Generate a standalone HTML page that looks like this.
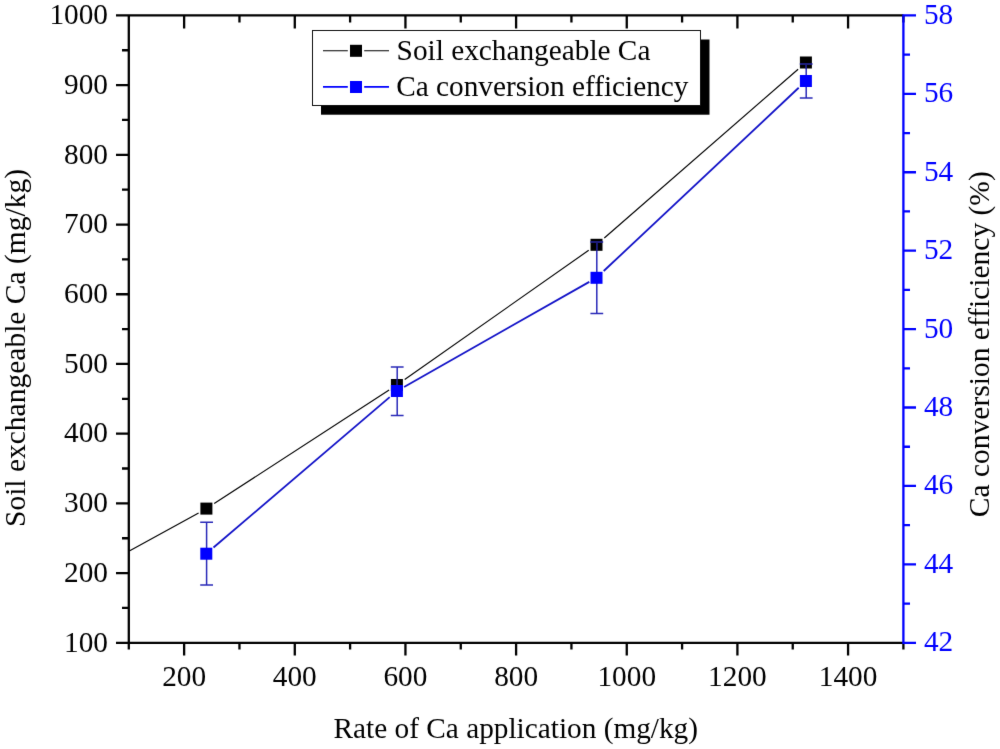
<!DOCTYPE html>
<html><head><meta charset="utf-8"><style>
html,body{margin:0;padding:0;background:#fff;width:1000px;height:749px;overflow:hidden}
svg{display:block}
text{font-family:"Liberation Serif",serif;font-size:29.3px;fill:#000}
</style></head><body>
<svg width="1000" height="749" viewBox="0 0 1000 749">
<defs><filter id="bl" filterUnits="userSpaceOnUse" x="-10" y="-10" width="1020" height="769" color-interpolation-filters="sRGB"><feConvolveMatrix order="3" kernelMatrix="0.00524 0.06192 0.00524 0.06192 0.73137 0.06192 0.00524 0.06192 0.00524" edgeMode="duplicate" preserveAlpha="true"/></filter></defs>
<g filter="url(#bl)">
<rect x="-10" y="-10" width="1020" height="769" fill="#fff"/>
<rect x="321" y="39.5" width="388.5" height="75.2" fill="#000"/>
<rect x="312.5" y="30.5" width="388" height="75" fill="#fff" stroke="#111" stroke-width="1"/>
<path d="M323,50.8H347.8M364.2,50.8H389" stroke="#000" stroke-width="1.1"/>
<rect x="350" y="44.8" width="12" height="12" fill="#000"/>
<text x="396.6" y="59.9">Soil exchangeable Ca</text>
<path d="M323,86.9H347.8M364.2,86.9H389" stroke="#0000ff" stroke-width="1.6"/>
<rect x="350" y="81" width="12" height="12" fill="#0000ff"/>
<text x="396.2" y="96.1">Ca conversion efficiency</text>
<path fill="none" stroke="#000" stroke-width="1.15" d="M129.30,551.00L198.60,512.89M214.20,503.54L389.10,390.06M404.70,379.52L588.70,250.28M604.30,238.01L798.10,69.29"/>
<rect x="200.4" y="502.6" width="12" height="12" fill="#000"/>
<rect x="390.9" y="379.0" width="12" height="12" fill="#000"/>
<rect x="590.5" y="238.8" width="12" height="12" fill="#000"/>
<rect x="799.9" y="56.5" width="12" height="12" fill="#000"/>
<path d="M206.60,522.3V585.0M200.20,522.3H213.00M200.20,585.0H213.00M397.20,367.0V415.4M390.80,367.0H403.60M390.80,415.4H403.60M596.80,242.0V313.5M590.40,242.0H603.20M590.40,313.5H603.20M806.20,64.0V98.1M799.80,64.0H812.60M799.80,98.1H812.60" stroke="#2a2ab8" stroke-width="1.5" fill="none"/>
<clipPath id="bk"><rect x="200.4" y="502.6" width="12" height="12"/><rect x="390.9" y="379.0" width="12" height="12"/><rect x="590.5" y="238.8" width="12" height="12"/><rect x="799.9" y="56.5" width="12" height="12"/></clipPath>
<path d="M206.60,522.3V585.0M200.20,522.3H213.00M200.20,585.0H213.00M397.20,367.0V415.4M390.80,367.0H403.60M390.80,415.4H403.60M596.80,242.0V313.5M590.40,242.0H603.20M590.40,313.5H603.20M806.20,64.0V98.1M799.80,64.0H812.60M799.80,98.1H812.60" stroke="#1c1c78" stroke-width="1.5" fill="none" clip-path="url(#bk)"/>
<path fill="none" stroke="#1414c8" stroke-width="1.8" d="M213.50,547.55L389.70,397.15M404.10,386.92L589.30,281.88M603.70,271.03L798.70,87.77"/>
<rect x="200.3" y="547.7" width="12" height="12" fill="#0000ff"/>
<rect x="390.9" y="385.0" width="12" height="12" fill="#0000ff"/>
<rect x="590.5" y="271.8" width="12" height="12" fill="#0000ff"/>
<rect x="799.9" y="75.0" width="12" height="12" fill="#0000ff"/>
<path d="M128.8,15.4H903.4 M128.8,14.25V642.8 M127.65,642.8H903.4 M116.00000000000001,642.80H128.8 M122.00000000000001,607.94H128.8 M116.00000000000001,573.09H128.8 M122.00000000000001,538.23H128.8 M116.00000000000001,503.38H128.8 M122.00000000000001,468.52H128.8 M116.00000000000001,433.67H128.8 M122.00000000000001,398.81H128.8 M116.00000000000001,363.96H128.8 M122.00000000000001,329.10H128.8 M116.00000000000001,294.24H128.8 M122.00000000000001,259.39H128.8 M116.00000000000001,224.53H128.8 M122.00000000000001,189.68H128.8 M116.00000000000001,154.82H128.8 M122.00000000000001,119.97H128.8 M116.00000000000001,85.11H128.8 M122.00000000000001,50.26H128.8 M116.00000000000001,15.40H128.8 M128.80,642.8V649.5999999999999 M184.13,642.8V655.5999999999999 M239.46,642.8V649.5999999999999 M294.79,642.8V655.5999999999999 M350.11,642.8V649.5999999999999 M405.44,642.8V655.5999999999999 M460.77,642.8V649.5999999999999 M516.10,642.8V655.5999999999999 M571.43,642.8V649.5999999999999 M626.76,642.8V655.5999999999999 M682.09,642.8V649.5999999999999 M737.41,642.8V655.5999999999999 M792.74,642.8V649.5999999999999 M848.07,642.8V655.5999999999999 M903.40,642.8V649.5999999999999 M128.80,15.4V22.4 M184.13,15.4V28.4 M239.46,15.4V22.4 M294.79,15.4V28.4 M350.11,15.4V22.4 M405.44,15.4V28.4 M460.77,15.4V22.4 M516.10,15.4V28.4 M571.43,15.4V22.4 M626.76,15.4V28.4 M682.09,15.4V22.4 M737.41,15.4V28.4 M792.74,15.4V22.4 M848.07,15.4V28.4 M903.40,15.4V22.4" stroke="#000" stroke-width="2.3" fill="none"/>
<path d="M903.4,14.25V643.9499999999999 M903.4,642.80H916.0 M903.4,603.59H910.0 M903.4,564.38H916.0 M903.4,525.16H910.0 M903.4,485.95H916.0 M903.4,446.74H910.0 M903.4,407.52H916.0 M903.4,368.31H910.0 M903.4,329.10H916.0 M903.4,289.89H910.0 M903.4,250.67H916.0 M903.4,211.46H910.0 M903.4,172.25H916.0 M903.4,133.04H910.0 M903.4,93.82H916.0 M903.4,54.61H910.0 M903.4,15.40H916.0" stroke="#0000ff" stroke-width="2.3" fill="none"/>
<text transform="translate(108,651.50) scale(1,1.03)" text-anchor="end">100</text>
<text transform="translate(108,581.79) scale(1,1.03)" text-anchor="end">200</text>
<text transform="translate(108,512.08) scale(1,1.03)" text-anchor="end">300</text>
<text transform="translate(108,442.37) scale(1,1.03)" text-anchor="end">400</text>
<text transform="translate(108,372.66) scale(1,1.03)" text-anchor="end">500</text>
<text transform="translate(108,302.94) scale(1,1.03)" text-anchor="end">600</text>
<text transform="translate(108,233.23) scale(1,1.03)" text-anchor="end">700</text>
<text transform="translate(108,163.52) scale(1,1.03)" text-anchor="end">800</text>
<text transform="translate(108,93.81) scale(1,1.03)" text-anchor="end">900</text>
<text transform="translate(108,24.10) scale(1,1.03)" text-anchor="end">1000</text>
<text transform="translate(184.13,685.8) scale(1,1.03)" text-anchor="middle">200</text>
<text transform="translate(294.79,685.8) scale(1,1.03)" text-anchor="middle">400</text>
<text transform="translate(405.44,685.8) scale(1,1.03)" text-anchor="middle">600</text>
<text transform="translate(516.10,685.8) scale(1,1.03)" text-anchor="middle">800</text>
<text transform="translate(626.76,685.8) scale(1,1.03)" text-anchor="middle">1000</text>
<text transform="translate(737.41,685.8) scale(1,1.03)" text-anchor="middle">1200</text>
<text transform="translate(848.07,685.8) scale(1,1.03)" text-anchor="middle">1400</text>
<text transform="translate(923.9,651.30) scale(1,1.03)" style="fill:#0000ff">42</text>
<text transform="translate(923.9,572.88) scale(1,1.03)" style="fill:#0000ff">44</text>
<text transform="translate(923.9,494.45) scale(1,1.03)" style="fill:#0000ff">46</text>
<text transform="translate(923.9,416.02) scale(1,1.03)" style="fill:#0000ff">48</text>
<text transform="translate(923.9,337.60) scale(1,1.03)" style="fill:#0000ff">50</text>
<text transform="translate(923.9,259.17) scale(1,1.03)" style="fill:#0000ff">52</text>
<text transform="translate(923.9,180.75) scale(1,1.03)" style="fill:#0000ff">54</text>
<text transform="translate(923.9,102.32) scale(1,1.03)" style="fill:#0000ff">56</text>
<text transform="translate(923.9,23.90) scale(1,1.03)" style="fill:#0000ff">58</text>
<text x="515.8" y="738" text-anchor="middle">Rate of Ca application (mg/kg)</text>
<text transform="translate(25,348) rotate(-90)" text-anchor="middle" style="font-size:29.5px">Soil exchangeable Ca (mg/kg)</text>
<text transform="translate(988.6,344.2) rotate(-90)" text-anchor="middle" style="font-size:29.5px">Ca conversion efficiency (%)</text>
</g>
</svg>
</body></html>
